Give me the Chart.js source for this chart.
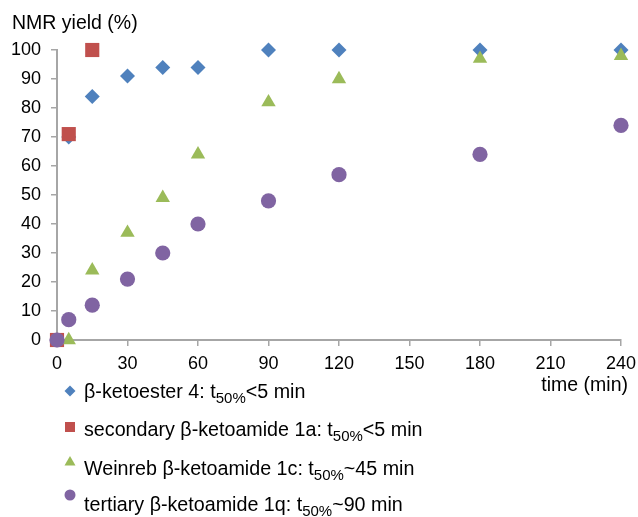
<!DOCTYPE html>
<html>
<head>
<meta charset="utf-8">
<script src="https://cdn.jsdelivr.net/npm/chart.js@4"></script>
<style>
  html, body { margin: 0; padding: 0; background: #fff; }
  #wrap { position: relative; width: 638px; height: 517px; overflow: hidden; }
  #chart { position: absolute; left: 0; top: 0; }
  .leg { position: absolute; left: 84px; font: 19.7px "Liberation Sans", Arial, sans-serif; line-height: 20px; color: #000; white-space: nowrap; }
  .leg sub { font-size: 15px; vertical-align: baseline; position: relative; top: 5px; }
  .mk { position: absolute; left: 64px; }
</style>
</head>
<body>
<div id="wrap">
  <canvas id="chart" width="638" height="517"></canvas>
  <div id="legend"></div>
</div>
<script>
// reaction time (min) per series
const timesKetoester = [0, 5, 15, 30, 45, 60, 90, 120, 180, 240];
const timesSecondary = [0, 5, 15];
const timesWeinreb = [5, 15, 30, 45, 60, 90, 120, 180, 240];
const timesTertiary = [0, 5, 15, 30, 45, 60, 90, 120, 180, 240];

// NMR yield (%)
const yieldKetoester = [0, 70, 84, 91, 94, 94, 100, 100, 100, 100];
const yieldSecondary = [0, 71, 100];
const yieldWeinreb = [0, 24, 37, 49, 64, 82, 90, 97, 98];
const yieldTertiary = [0, 7, 12, 21, 30, 40, 48, 57, 64, 74];

const seriesNames = [
  ["β-ketoester 4: t", "<5 min"],
  ["secondary β-ketoamide 1a: t", "<5 min"],
  ["Weinreb β-ketoamide 1c: t", "~45 min"],
  ["tertiary β-ketoamide 1q: t", "~90 min"],
];
const COLORS = ["#4F81BD", "#C0504D", "#9BBB59", "#8064A2"];

const AXIS_GRAY = "#a6a6a6";
const FONT = '"Liberation Sans", Arial, sans-serif';

function toPoints(xs, ys) {
  return xs.map((x, i) => ({ x, y: ys[i] }));
}

function series(label, xs, ys, color, style, radius, order) {
  return {
    label,
    data: toPoints(xs, ys),
    backgroundColor: color,
    borderColor: color,
    borderWidth: 0,
    pointStyle: style,
    pointRadius: radius,
    pointHoverRadius: radius,
    showLine: false,
    clip: false,
    order,
  };
}

const axisTitles = {
  id: "axisTitles",
  afterDraw(chart) {
    const ctx = chart.ctx;
    ctx.save();
    ctx.fillStyle = "#000";
    ctx.font = "19.5px " + FONT;
    ctx.textBaseline = "alphabetic";
    ctx.textAlign = "left";
    ctx.fillText("NMR yield (%)", 12, 29);
    ctx.textAlign = "right";
    ctx.fillText("time (min)", 628, 391);
    ctx.restore();
  },
};

// keep the plot box fixed: the scales should not add their own label padding
function fixPadding(s) {
  s.paddingLeft = 0;
  s.paddingRight = 0;
  s.paddingTop = 0;
  s.paddingBottom = 0;
}

new Chart(document.getElementById("chart").getContext("2d"), {
  type: "scatter",
  data: {
    datasets: [
      series(seriesNames[0][0], timesKetoester, yieldKetoester, COLORS[0], "rectRot", 7.5, 4),
      series(seriesNames[1][0], timesSecondary, yieldSecondary, COLORS[1], "rect", 10, 3),
      series(seriesNames[2][0], timesWeinreb, yieldWeinreb, COLORS[2], "triangle", 8.3, 2),
      series(seriesNames[3][0], timesTertiary, yieldTertiary, COLORS[3], "circle", 7.6, 1),
    ],
  },
  options: {
    responsive: false,
    animation: false,
    events: [],
    layout: { padding: { left: 0, top: 50, right: 17, bottom: 0 } },
    scales: {
      x: {
        type: "linear",
        min: 0,
        max: 240,
        afterFit: (s) => { s.height = 177; fixPadding(s); },
        ticks: { stepSize: 30, color: "#000", font: { family: FONT, size: 18 }, padding: 7, maxRotation: 0 },
        grid: { drawOnChartArea: false, drawTicks: true, tickLength: 6, color: AXIS_GRAY, lineWidth: 1.5 },
        border: { display: true, color: AXIS_GRAY, width: 2 },
      },
      y: {
        min: 0,
        max: 100,
        afterFit: (s) => { s.width = 57; fixPadding(s); },
        ticks: { stepSize: 10, color: "#000", font: { family: FONT, size: 18 }, padding: 10 },
        grid: { drawOnChartArea: false, drawTicks: true, tickLength: 6, color: AXIS_GRAY, lineWidth: 1.5 },
        border: { display: true, color: AXIS_GRAY, width: 2 },
      },
    },
    plugins: {
      legend: { display: false },
      tooltip: { enabled: false },
    },
  },
  plugins: [axisTitles],
});

// legend below the plot, one entry per row
const legendEl = document.getElementById("legend");
const markers = [
  '<svg width="12" height="12"><polygon points="6,0.5 11.5,6 6,11.5 0.5,6" fill="' + COLORS[0] + '"/></svg>',
  '<svg width="12" height="12"><rect x="1" y="1" width="10" height="10" fill="' + COLORS[1] + '"/></svg>',
  '<svg width="12" height="12"><polygon points="6,1 11.5,10.5 0.5,10.5" fill="' + COLORS[2] + '"/></svg>',
  '<svg width="12" height="12"><circle cx="6" cy="6" r="5.5" fill="' + COLORS[3] + '"/></svg>',
];
const markerCenters = [389, 425, 459, 493];
const textBaselines = [398, 436, 475, 511];
seriesNames.forEach(([head, tail], i) => {
  const mk = document.createElement("div");
  mk.className = "mk";
  mk.style.top = (markerCenters[i] - 6) + "px";
  mk.innerHTML = markers[i];
  legendEl.appendChild(mk);

  const row = document.createElement("div");
  row.className = "leg";
  row.style.top = (textBaselines[i] - 17) + "px";
  row.innerHTML = head + "<sub>50%</sub>" + tail;
  legendEl.appendChild(row);
});
</script>
</body>
</html>
